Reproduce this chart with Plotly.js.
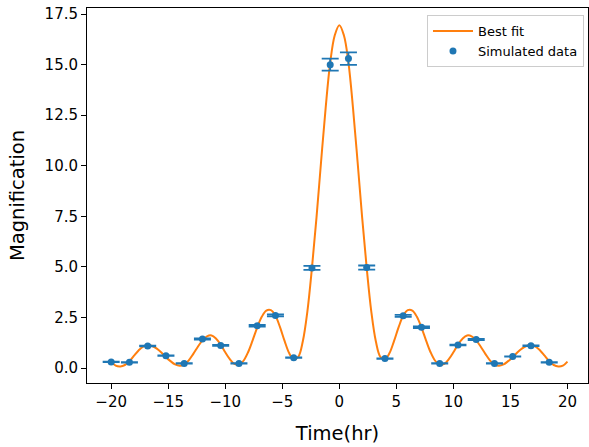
<!DOCTYPE html>
<html>
<head>
<meta charset="utf-8">
<script src="https://cdn.plot.ly/plotly-3.0.1.min.js"></script>
<style>html,body{margin:0;padding:0;background:#fff;}#chart{width:589px;height:447px;}</style>
</head>
<body>
<div id="chart"></div>
<script>
// Simulated data (time in hr, magnification)
const dataX = [-20.0, -18.4, -16.8, -15.2, -13.6, -12.0, -10.4, -8.8, -7.2, -5.6, -4.0, -2.4, -0.8,
               0.8, 2.4, 4.0, 5.6, 7.2, 8.8, 10.4, 12.0, 13.6, 15.2, 16.8, 18.4];
const dataY = [0.30, 0.28, 1.09, 0.61, 0.23, 1.43, 1.12, 0.23, 2.09, 2.60, 0.51, 4.95, 15.0,
               15.3, 4.97, 0.47, 2.58, 2.02, 0.23, 1.14, 1.41, 0.23, 0.57, 1.10, 0.28];
const dataErr = [0.01, 0.01, 0.02, 0.01, 0.01, 0.03, 0.02, 0.01, 0.04, 0.05, 0.01, 0.10, 0.30,
                 0.31, 0.10, 0.01, 0.05, 0.04, 0.01, 0.02, 0.03, 0.01, 0.01, 0.02, 0.01];

// Best-fit curve
const fitX = [-20.0, -19.6, -19.2, -18.8, -18.4, -18.0, -17.6, -17.2, -16.8, -16.4, -16.0, -15.6, -15.2,
              -14.8, -14.4, -14.0, -13.6, -13.2, -12.8, -12.4, -12.0, -11.6, -11.2, -10.8, -10.4,
              -10.0, -9.6, -9.2, -8.8, -8.4, -8.0, -7.6, -7.2, -6.8, -6.4, -6.0, -5.6, -5.2, -4.8,
              -4.4, -4.0, -3.6, -3.2, -2.8, -2.4, -2.0, -1.6, -1.2, -0.8, -0.4, 0.0,
              0.4, 0.8, 1.2, 1.6, 2.0, 2.4, 2.8, 3.2, 3.6, 4.0, 4.4, 4.8, 5.2, 5.6, 6.0, 6.4, 6.8,
              7.2, 7.6, 8.0, 8.4, 8.8, 9.2, 9.6, 10.0, 10.4, 10.8, 11.2, 11.6, 12.0, 12.4, 12.8,
              13.2, 13.6, 14.0, 14.4, 14.8, 15.2, 15.6, 16.0, 16.4, 16.8, 17.2, 17.6, 18.0, 18.4,
              18.8, 19.2, 19.6, 20.0];
const fitY = [0.32, 0.12, 0.08, 0.15, 0.33, 0.61, 0.87, 1.06, 1.14, 1.09, 0.96, 0.77, 0.53,
              0.34, 0.18, 0.11, 0.17, 0.38, 0.70, 1.05, 1.37, 1.57, 1.61, 1.45, 1.16,
              0.78, 0.44, 0.20, 0.16, 0.36, 0.78, 1.37, 2.00, 2.53, 2.84, 2.86, 2.58, 2.02, 1.34,
              0.74, 0.43, 0.55, 1.32, 2.80, 4.95, 7.45, 10.20, 12.85, 15.10, 16.45, 16.95,
              16.45, 15.10, 12.85, 10.20, 7.45, 4.95, 2.80, 1.32, 0.55, 0.43, 0.74, 1.34, 2.02, 2.58, 2.86, 2.84, 2.53,
              2.00, 1.37, 0.78, 0.36, 0.16, 0.20, 0.44, 0.78, 1.16, 1.45, 1.61, 1.57, 1.37, 1.05, 0.70,
              0.38, 0.17, 0.11, 0.18, 0.34, 0.53, 0.77, 0.96, 1.09, 1.14, 1.06, 0.87, 0.61, 0.33,
              0.15, 0.08, 0.12, 0.32];

const xTickVals = [-20, -15, -10, -5, 0, 5, 10, 15, 20];
const yTickVals = [0, 2.5, 5, 7.5, 10, 12.5, 15, 17.5];

const font = "DejaVu Sans, sans-serif";

const traces = [
  {
    x: fitX, y: fitY, type: 'scatter', mode: 'lines', name: 'Best fit',
    line: {color: '#ff7f0e', width: 2, shape: 'spline', smoothing: 1}
  },
  {
    x: dataX, y: dataY, type: 'scatter', mode: 'markers', name: 'Simulated data',
    marker: {color: '#1f77b4', size: 7},
    error_y: {type: 'data', array: dataErr, visible: true, color: '#1f77b4', thickness: 1.8, width: 8.5}
  }
];

const axisCommon = {
  showline: true, mirror: true, linecolor: '#000', linewidth: 1,
  ticks: 'outside', ticklen: 5, tickwidth: 1, tickcolor: '#000',
  showgrid: false, zeroline: false,
  tickfont: {family: font, size: 15, color: '#000'}
};

const layout = {
  width: 589, height: 447,
  margin: {l: 87, r: 1, t: 8, b: 64},
  paper_bgcolor: '#fff', plot_bgcolor: '#fff',
  font: {family: font, color: '#000'},
  xaxis: Object.assign({}, axisCommon, {
    range: [-22.12, 21.8], tickmode: 'array', tickvals: xTickVals,
    title: {text: 'Time(hr)', font: {family: font, size: 19.5, color: '#000'}, standoff: 16}
  }),
  yaxis: Object.assign({}, axisCommon, {
    range: [-0.74, 17.8], tickmode: 'array', tickvals: yTickVals, tickformat: '.1f',
    title: {text: 'Magnification', font: {family: font, size: 19.5, color: '#000'}, standoff: 14}
  }),
  showlegend: true,
  legend: {
    x: 0.992, y: 0.981, xanchor: 'right', yanchor: 'top',
    bgcolor: 'rgba(255,255,255,0.8)', bordercolor: '#cccccc', borderwidth: 1,
    itemwidth: 40,
    font: {family: font, size: 13, color: '#000'}
  }
};

Plotly.newPlot('chart', traces, layout, {displayModeBar: false, staticPlot: true});
</script>
</body>
</html>
